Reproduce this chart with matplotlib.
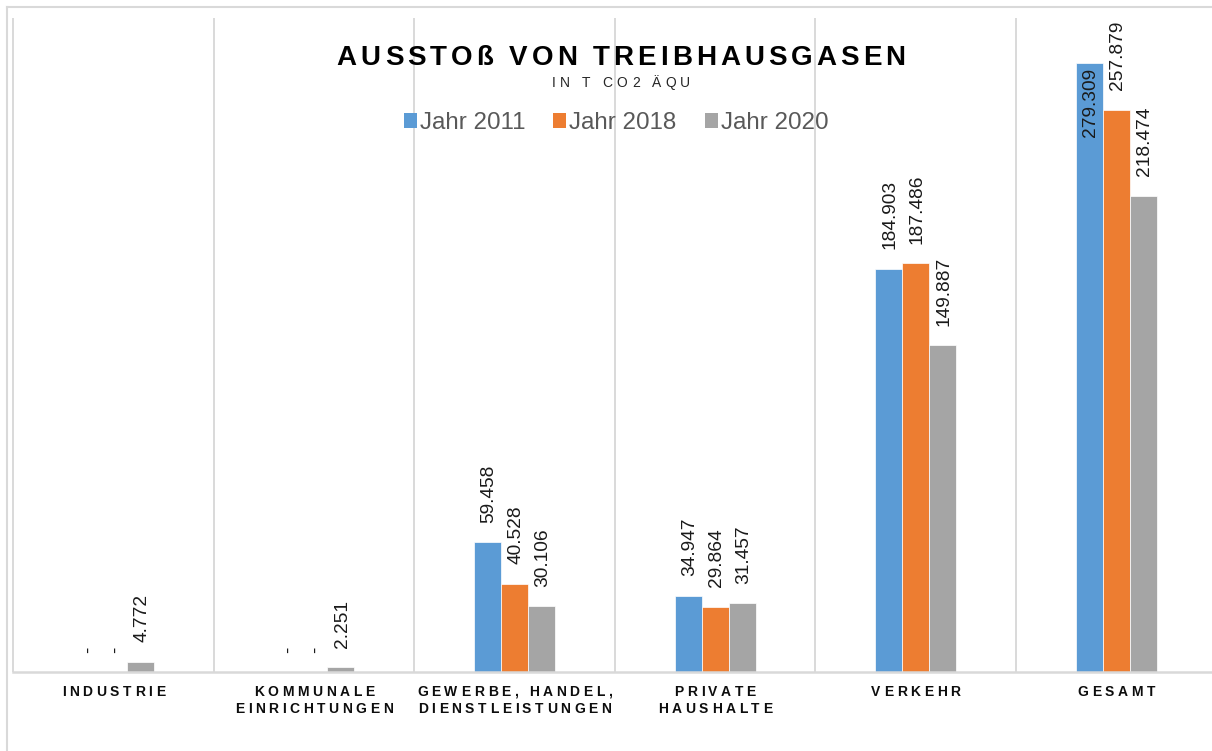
import matplotlib
matplotlib.use('Agg')
import matplotlib.pyplot as plt
import numpy as np
from matplotlib.font_manager import FontProperties
from matplotlib.patches import Patch
from matplotlib.lines import Line2D

plt.rcParams['font.family'] = ['Liberation Sans', 'DejaVu Sans']

# data
kategorien = ['INDUSTRIE', 'KOMMUNALE\nEINRICHTUNGEN', 'GEWERBE, HANDEL,\nDIENSTLEISTUNGEN',
              'PRIVATE\nHAUSHALTE', 'VERKEHR', 'GESAMT']
jahre = ['Jahr 2011', 'Jahr 2018', 'Jahr 2020']
werte_2011 = [0, 0, 59.458, 34.947, 184.903, 279.309]
werte_2018 = [0, 0, 40.528, 29.864, 187.486, 257.879]
werte_2020 = [4.772, 2.251, 30.106, 31.457, 149.887, 218.474]
titel = 'AUSSTOß VON TREIBHAUSGASEN'
untertitel = 'IN T CO2 ÄQU'

farben = ['#5B9BD5', '#ED7D31', '#A5A5A5']
grid_col = '#D9D9D9'

W, H = 1212, 751
fig = plt.figure(figsize=(W / 100, H / 100), dpi=100)
ax = fig.add_axes([13 / W, 79 / H, 1199 / W, 654 / H])

step = 200.6  # pixel width of one category
bw = 27 / step
ymax = 300
ax.set_xlim(-0.5, -0.5 + 1199 / step)
ax.set_ylim(0, ymax)

# category separators
ax.vlines(np.arange(-0.5, 6, 1), 0, ymax, color=grid_col, lw=1.4, zorder=1, clip_on=False)

x = np.arange(len(kategorien))
for k, (vals, col) in enumerate(zip([werte_2011, werte_2018, werte_2020], farben)):
    xs = x + (k - 1) * bw
    ax.bar(xs, vals, bw, color=col, edgecolor='white', linewidth=0.5, zorder=3, label=jahre[k])
    for xi, v in zip(xs, vals):
        txt = '-' if v == 0 else f'{v:.3f}'
        if v + 40 > ymax:
            # label does not fit above the bar -> inside end
            ax.annotate(txt, (xi, v), xytext=(1.2, -3.6), textcoords='offset points',
                        rotation=90, ha='center', va='top', fontsize=13.8, color='#1a1a1a', zorder=5)
        else:
            ax.annotate(txt, (xi, v), xytext=(1.2, 14), textcoords='offset points',
                        rotation=90, ha='center', va='bottom', fontsize=13.8, color='#1a1a1a', zorder=5)

for s in ['left', 'right', 'top']:
    ax.spines[s].set_visible(False)
ax.spines['bottom'].set_color(grid_col)
ax.spines['bottom'].set_linewidth(1.8)
ax.spines['bottom'].set_zorder(4)
ax.set_xticks([])
ax.set_yticks([])

# outer chart border (only top and left visible)
fig.add_artist(Line2D([7 / W, 1], [1 - 7 / H, 1 - 7 / H], transform=fig.transFigure, color=grid_col, lw=1.5))
fig.add_artist(Line2D([7 / W, 7 / W], [0, 1 - 7 / H], transform=fig.transFigure, color=grid_col, lw=1.5))

renderer = fig.canvas.get_renderer()


def advance(c, prop):
    w1 = renderer.get_text_width_height_descent('H' + c + 'H', prop, ismath=False)[0]
    w0 = renderer.get_text_width_height_descent('HH', prop, ismath=False)[0]
    return w1 - w0


def tracked(xc, yb, s, size, weight='normal', color='black', track=0.0):
    # draw letter-spaced text centered at xc with baseline yb (pixels from bottom)
    prop = FontProperties(family='Liberation Sans', size=size, weight=weight)
    ws = [advance(c, prop) for c in s]
    total = sum(ws) + track * (len(s) - 1)
    cx = xc - total / 2
    for c, w in zip(s, ws):
        if c != ' ':
            fig.text((cx + w / 2) / W, yb / H, c, fontproperties=prop, color=color,
                     ha='center', va='baseline')
        cx += w + track


tracked(621, H - 65, titel, 20, weight='bold', color='black', track=4.0)
tracked(621, H - 86.7, untertitel, 10, color='#262626', track=4.2)

for i, lab in enumerate(kategorien):
    xc = ax.transData.transform((i, 0))[0]
    for j, line in enumerate(lab.split('\n')):
        tracked(xc, H - 696 - j * 17, line, 10, weight='bold', color='#0d0d0d', track=3.6)

handles = [Patch(facecolor=c, edgecolor='none') for c in farben]
fs = 17.4
em = fs * 100 / 72
fig.legend(handles, jahre, loc='center', bbox_to_anchor=(616 / W, 628 / H), ncol=3, frameon=False,
           fontsize=fs, labelcolor='#595959', handlelength=13 / em, handleheight=13 / em,
           handletextpad=3 / em, columnspacing=28 / em, borderpad=0, borderaxespad=0)

fig.savefig('out.png', dpi=100)
